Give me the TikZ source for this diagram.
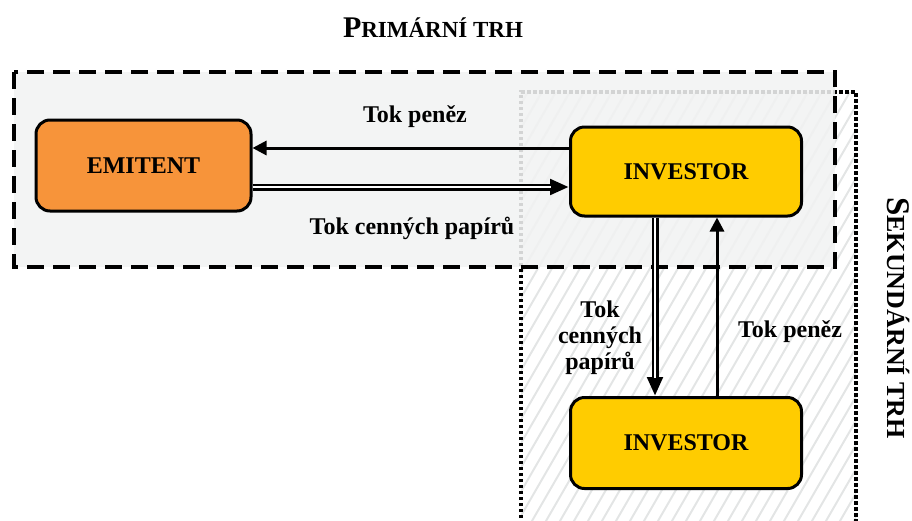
\documentclass[tikz,border=0pt]{standalone}
\usepackage{fontspec}
\setmainfont{Liberation Serif}
\usetikzlibrary{arrows.meta}
\definecolor{emitfill}{HTML}{F7943A}
\definecolor{invfill}{HTML}{FFCC00}
\definecolor{primfill}{HTML}{F1F2F2}
\definecolor{hatchc}{HTML}{E3E5E5}
\begin{document}
\begin{tikzpicture}[x=1pt,y=-1pt,
  box/.style={draw=black, line width=3pt, rounded corners=14pt, inner sep=0pt, font=\fontsize{24}{26}\selectfont\bfseries},
  lbl/.style={font=\fontsize{24}{26}\selectfont\bfseries, inner sep=0pt, align=center},
  single/.style={line width=3pt, -{Triangle[length=14pt,width=14pt]}},
  dblout/.style={line width=7pt, -{Triangle[length=19pt,width=15pt]}},
  dblin/.style={white, line width=2.6pt, shorten >=18pt},
  region/.style={line width=4pt}]
\useasboundingbox (0,0) rectangle (912,520);
% secondary market region
\begin{scope}
  \clip (521,92) rectangle (856,530);
  \foreach \i in {-20,...,30} {
    \draw[hatchc, line width=2pt] (521+\i*14,540) -- ++(260,-450);
  }
\end{scope}
\draw[line width=4pt, dash pattern=on 3.5pt off 2.5pt] (521,560) -- (521,92) -- (856,92) -- (856,560);
% primary market region
\fill[primfill, opacity=0.88] (14,72) rectangle (835,267);
\draw[region, dash pattern=on 17pt off 9pt] (14,72) rectangle (835,267);
% nodes
\node[box, fill=emitfill, minimum width=215pt, minimum height=91pt] (em) at (143.5,165.5) {EMITENT};
\node[box, fill=invfill, minimum width=231pt, minimum height=89pt] (inv1) at (686,171.5) {INVESTOR};
\node[box, fill=invfill, minimum width=231pt, minimum height=91pt] (inv2) at (686,443) {INVESTOR};
% connectors
\draw[single] (inv1.west |- 0,148) -- (em.east |- 0,148);
\draw[dblout] (em.east |- 0,187) -- (inv1.west |- 0,187);
\draw[dblin] (em.east |- 0,187) -- (inv1.west |- 0,187);
\draw[dblout] (inv1.south -| 655,0) -- (inv2.north -| 655,0);
\draw[dblin] (inv1.south -| 655,0) -- (inv2.north -| 655,0);
\draw[single] (inv2.north -| 717,0) -- (inv1.south -| 717,0);
% labels
\node[lbl] (l1) at (415,117) {Tok peněz};
\node[lbl] (l2) at (412,228) {Tok cenných papírů};
\node[lbl] (l3) at (600,338) {Tok\\cenných\\papírů};
\node[lbl] (l4) at (790,332) {Tok peněz};
\node[inner sep=0pt] (t1) at (433,28) {\bfseries\fontsize{30}{32}\selectfont P\fontsize{23}{26}\selectfont RIMÁRNÍ TRH};
\node[inner sep=0pt, rotate=-90] (t2) at (898,318) {\bfseries\fontsize{33}{34}\selectfont S\fontsize{26}{28}\selectfont EKUNDÁRNÍ TRH};
\end{tikzpicture}
\end{document}
